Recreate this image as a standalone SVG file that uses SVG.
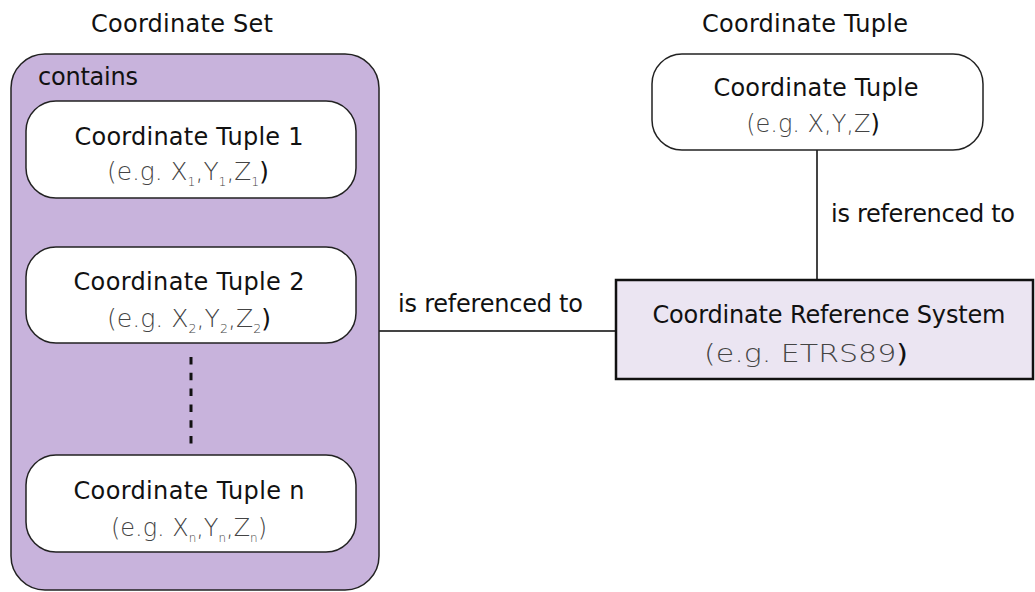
<svg xmlns="http://www.w3.org/2000/svg" width="1035" height="592" viewBox="0 0 1035 592">
  <style>
    text { font-family: "DejaVu Sans", "Liberation Sans", sans-serif; fill: #111; }
    .title { font-size: 24px; text-anchor: middle; }
    .label { font-size: 24px; }
    .sub { font-size: 24px; text-anchor: middle; fill: #444; font-weight: 200; }
    .sub .s { font-size: 12px; }
    .sub .k { fill: #111; font-weight: 400; }
    .set { fill: #c8b3dc; stroke: #222; stroke-width: 1.5; }
    .tuple { fill: #ffffff; stroke: #222; stroke-width: 1.5; }
    .crs { fill: #ebe5f2; stroke: #111; stroke-width: 2.5; }
    .link { stroke: #444; stroke-width: 2; fill: none; }
    .dots { stroke: #111; stroke-width: 3; stroke-dasharray: 7.5 8.3; fill: none; }
  </style>

  <!-- headings -->
  <text class="title" x="182" y="32" textLength="182">Coordinate Set</text>
  <text class="title" x="805" y="32" textLength="206">Coordinate Tuple</text>

  <!-- connectors -->
  <g id="connectors">
    <line class="link" x1="379" y1="331" x2="616" y2="331"/>
    <line class="link" x1="817" y1="150" x2="817" y2="280"/>
    <text class="label" x="398" y="312" textLength="185">is referenced to</text>
    <text class="label" x="831" y="222" textLength="184">is referenced to</text>
  </g>

  <!-- coordinate set container -->
  <g id="coordinate-set">
    <rect class="set" x="11" y="54" width="368" height="536" rx="34"/>
    <text class="label" x="38" y="85" textLength="100">contains</text>
    <line class="dots" x1="191" y1="357" x2="191" y2="447"/>
  </g>

  <g id="tuple-1">
    <rect class="tuple" x="26" y="101" width="330" height="97" rx="30"/>
    <text class="title" x="189" y="145" textLength="229">Coordinate Tuple 1</text>
    <text class="sub" x="188" y="180" textLength="162" lengthAdjust="spacingAndGlyphs">(e.g. X<tspan class="s" dy="6">1</tspan><tspan dy="-6">,Y</tspan><tspan class="s" dy="6">1</tspan><tspan dy="-6">,Z</tspan><tspan class="s" dy="6">1</tspan><tspan class="k" dy="-6">)</tspan></text>
  </g>

  <g id="tuple-2">
    <rect class="tuple" x="26" y="247" width="330" height="96" rx="30"/>
    <text class="title" x="189" y="290" textLength="231">Coordinate Tuple 2</text>
    <text class="sub" x="189" y="327" textLength="164" lengthAdjust="spacingAndGlyphs">(e.g. X<tspan class="s" dy="6">2</tspan><tspan dy="-6">,Y</tspan><tspan class="s" dy="6">2</tspan><tspan dy="-6">,Z</tspan><tspan class="s" dy="6">2</tspan><tspan class="k" dy="-6">)</tspan></text>
  </g>

  <g id="tuple-n">
    <rect class="tuple" x="26" y="455" width="330" height="97" rx="30"/>
    <text class="title" x="189" y="499" textLength="231">Coordinate Tuple n</text>
    <text class="sub" x="189" y="536" textLength="156" lengthAdjust="spacingAndGlyphs">(e.g. X<tspan class="s" dy="6">n</tspan><tspan dy="-6">,Y</tspan><tspan class="s" dy="6">n</tspan><tspan dy="-6">,Z</tspan><tspan class="s" dy="6">n</tspan><tspan dy="-6">)</tspan></text>
  </g>

  <g id="tuple">
    <rect class="tuple" x="652" y="54" width="331" height="96" rx="30"/>
    <text class="title" x="816" y="96" textLength="205">Coordinate Tuple</text>
    <text class="sub" x="813" y="132">(e.g. X,Y,Z<tspan class="k">)</tspan></text>
  </g>

  <g id="crs">
    <rect class="crs" x="616" y="280" width="417" height="99"/>
    <text class="title" x="829" y="323" textLength="353">Coordinate Reference System</text>
    <text class="sub" x="806" y="362" textLength="204" lengthAdjust="spacingAndGlyphs">(e.g. ETRS89<tspan class="k">)</tspan></text>
  </g>
</svg>
